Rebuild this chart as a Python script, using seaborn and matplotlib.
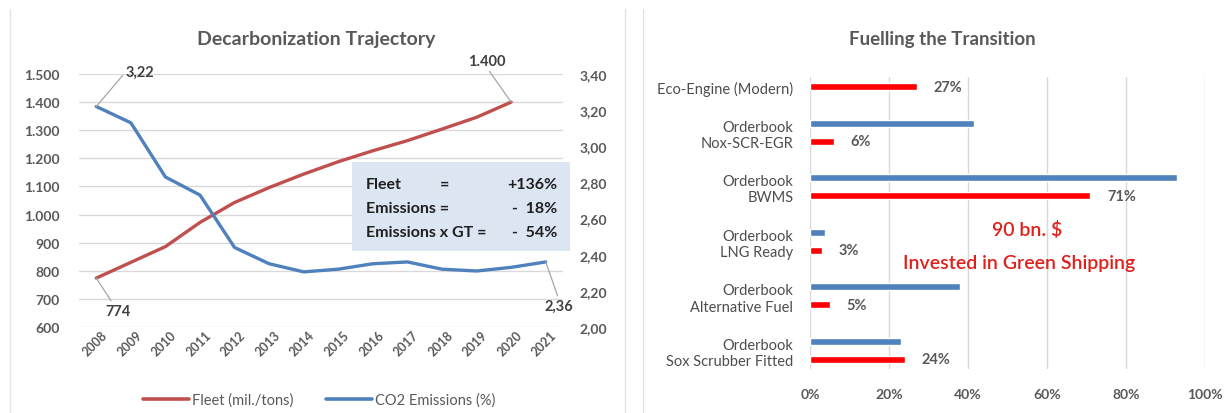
import numpy as np
import pandas as pd
import matplotlib.pyplot as plt
import matplotlib.ticker as mticker
import matplotlib.transforms as mtransforms
from matplotlib.patches import Rectangle
from matplotlib.lines import Line2D
import seaborn as sns

years = list(range(2008, 2022))
fleet = [774, 830, 886, 972, 1043, 1096, 1144, 1188, 1227, 1263, 1304, 1346, 1400, np.nan]
co2 = [3.22, 3.13, 2.83, 2.73, 2.44, 2.35, 2.305, 2.32, 2.35, 2.36, 2.32, 2.31, 2.33, 2.36]

categories = ["Eco-Engine (Modern)", "Nox-SCR-EGR", "BWMS", "LNG Ready",
              "Alternative Fuel", "Sox Scrubber Fitted"]
cat_labels = ["Eco-Engine (Modern)", "Orderbook\nNox-SCR-EGR", "Orderbook\nBWMS",
              "Orderbook\nLNG Ready", "Orderbook\nAlternative Fuel",
              "Orderbook\nSox Scrubber Fitted"]
orderbook = [np.nan, 0.415, 0.93, 0.038, 0.38, 0.23]
fitted = [0.27, 0.06, 0.71, 0.03, 0.05, 0.24]

RED_LINE = "#C0504D"
BLUE = "#4F81BD"
RED = "#FF0000"
GRAY = "#595959"
GRID = "#D9D9D9"

sns.set_theme(style="white")
plt.rcParams["font.family"] = ["Lato", "DejaVu Sans"]

W, H = 1224, 414
fig = plt.figure(figsize=(W / 100, H / 100), dpi=100)


def box(l, t, r, b):
    return [l / W, 1 - b / H, (r - l) / W, (b - t) / H]


# ---------- left: decarbonization trajectory ----------
line_df = pd.DataFrame({"year": years, "fleet": fleet, "co2": co2})

ax = fig.add_axes(box(79, 75, 563, 328))
ax2 = ax.twinx()
sns.lineplot(data=line_df, x="year", y="fleet", ax=ax, color=RED_LINE, lw=2.4)
sns.lineplot(data=line_df, x="year", y="co2", ax=ax2, color=BLUE, lw=2.4)

ax.set_xlim(years[0] - 0.5, years[-1] + 0.5)
ax.set_ylim(600, 1500)
ax2.set_ylim(2.0, 3.4)
ax.set_yticks(np.arange(600, 1501, 100))
ax2.set_yticks(np.arange(2.0, 3.41, 0.2))
ax.yaxis.set_major_formatter(mticker.FuncFormatter(lambda v, p: f"{v:,.0f}".replace(",", ".")))
ax2.yaxis.set_major_formatter(mticker.FuncFormatter(lambda v, p: f"{v:.2f}".replace(".", ",")))
ax.set_xticks(years)
ax.set_xlabel("")
ax.set_ylabel("")
ax2.set_ylabel("")
ax.grid(axis="y", color=GRID, lw=1)
ax.set_axisbelow(True)
for a in (ax, ax2):
    for s in a.spines.values():
        s.set_visible(False)
ax.tick_params(axis="y", length=0, pad=14, labelsize=10, labelcolor=GRAY)
ax2.tick_params(axis="y", length=0, pad=12, labelsize=10, labelcolor=GRAY)
ax.tick_params(axis="x", length=0, pad=4, labelsize=9, labelcolor=GRAY)
for t in ax.get_yticklabels() + ax2.get_yticklabels() + ax.get_xticklabels():
    t.set_fontweight("bold")
shift = mtransforms.ScaledTranslation(9 / 100, 0, fig.dpi_scale_trans)
for t in ax.get_xticklabels():
    t.set_rotation(45)
    t.set_ha("right")
    t.set_va("center")
    t.set_rotation_mode("anchor")
    t.set_transform(t.get_transform() + shift)

lead = dict(arrowstyle="-", color="#A6A6A6", lw=0.9, shrinkA=0, shrinkB=0)
lab = dict(textcoords="offset pixels", ha="center", va="center", fontsize=10.5,
           fontweight="bold", color="#404040")
ax2.annotate("3,22", (years[0], co2[0]), xytext=(44, 35),
             arrowprops=dict(lead, relpos=(0, 0.5)), **lab)
ax.annotate("774", (years[0], fleet[0]), xytext=(22, -33),
            arrowprops=dict(lead, relpos=(0.3, 1)), **lab)
ax.annotate("1.400", (years[12], fleet[12]), xytext=(-24, 41),
            arrowprops=dict(lead, relpos=(0.5, 0)), **lab)
ax2.annotate("2,36", (years[-1], co2[-1]), xytext=(13, -44),
             arrowprops=dict(lead, relpos=(0.5, 1)), **lab)

fig.patches.append(Rectangle((352 / W, 1 - 252 / H), (570 - 352) / W, (252 - 163) / H,
                             transform=fig.transFigure, facecolor="#DCE6F2",
                             edgecolor="none", zorder=5))
rows = [("Fleet", "+136%", 185), ("Emissions =", "-  18%", 209),
        ("Emissions x GT =", "-  54%", 233)]
for left, right, y in rows:
    fig.text(366 / W, 1 - y / H, left, ha="left", va="center", fontsize=11.5,
             fontweight="bold", color="#1F1F1F", zorder=6)
    fig.text(557 / W, 1 - y / H, right, ha="right", va="center", fontsize=11.5,
             fontweight="bold", color="#1F1F1F", zorder=6)
fig.text(445 / W, 1 - 185 / H, "=", ha="center", va="center", fontsize=11.5,
         fontweight="bold", color="#1F1F1F", zorder=6)

fig.text(316 / W, 1 - 40 / H, "Decarbonization Trajectory", ha="center", va="center",
         fontsize=14, fontweight="bold", color=GRAY)
handles = [Line2D([], [], color=RED_LINE, lw=2.6), Line2D([], [], color=BLUE, lw=2.6)]
fig.legend(handles, ["Fleet (mil./tons)", "CO2 Emissions (%)"], loc="center",
           bbox_to_anchor=(319 / W, 1 - 401 / H), ncol=2, frameon=False,
           fontsize=10.5, labelcolor=GRAY, handlelength=3.2, handletextpad=0.2,
           columnspacing=2.2)

# ---------- right: fuelling the transition ----------
bar_df = pd.DataFrame({
    "category": categories * 2,
    "series": ["Orderbook"] * 6 + ["Fitted"] * 6,
    "value": orderbook + fitted,
}).dropna()

bx = fig.add_axes(box(810, 78, 1205, 370))
sns.barplot(data=bar_df, y="category", x="value", hue="series", order=categories,
            hue_order=["Orderbook", "Fitted"], palette=[BLUE, RED], orient="h",
            width=0.66, gap=0.6, ax=bx, legend=False, saturation=1)
bx.set_xlim(0, 1.0)
bx.set_ylim(5.34, -0.01)
bx.set_xticks(np.arange(0, 1.01, 0.2))
bx.xaxis.set_major_formatter(mticker.PercentFormatter(1.0, decimals=0))
bx.set_yticks([0.165, 1, 2, 3, 4, 5])
bx.set_yticklabels(cat_labels)
bx.set_xlabel("")
bx.set_ylabel("")
bx.grid(axis="x", color=GRID, lw=1)
bx.grid(axis="y", visible=False)
bx.set_axisbelow(True)
for s in bx.spines.values():
    s.set_visible(False)
bx.tick_params(axis="y", length=0, pad=12, labelsize=10.5, labelcolor="#4D4D4D")
bx.tick_params(axis="x", length=0, pad=14, labelsize=10, labelcolor=GRAY)
for t in bx.get_xticklabels():
    t.set_fontweight("bold")
bx.bar_label(bx.containers[-1], labels=[f"{v:.0%}" for v in fitted], padding=12,
             fontsize=10.5, fontweight="bold", color=GRAY)

fig.text(942 / W, 1 - 40 / H, "Fuelling the Transition", ha="center", va="center",
         fontsize=13.5, fontweight="bold", color=GRAY)
fig.text(1027 / W, 1 - 230 / H, "90 bn. $", ha="center", va="center",
         fontsize=14, fontweight="semibold", color="#E0201B")
fig.text(1019 / W, 1 - 264 / H, "Invested in Green Shipping", ha="center", va="center",
         fontsize=14, fontweight="semibold", color="#E0201B")

# frame lines between the two panels
for x in (10, 625, 643):
    fig.add_artist(Line2D([x / W, x / W], [0, 1 - 10 / H], color="#E3E3E3", lw=1))

fig.savefig("out.png", dpi=100)
